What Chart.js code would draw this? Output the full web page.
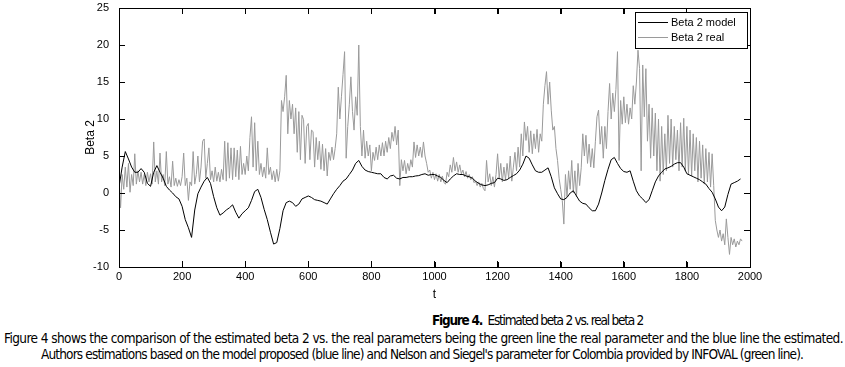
<!DOCTYPE html>
<html>
<head>
<meta charset="UTF-8">
<title>Estimated beta 2 vs. real beta 2</title>
<script src="https://cdn.jsdelivr.net/npm/chart.js"></script>
<style>
  body { margin: 0; background: #fff; }
  #wrap { position: relative; width: 845px; height: 305px; }
  #overlay { position: absolute; left: 0; top: 0; width: 845px; height: 305px; pointer-events: none; }
  #overlay div { position: absolute; background: #000; }
  .cap { position: absolute; white-space: nowrap; font-family: "DejaVu Sans Condensed", "Liberation Sans", sans-serif;
         font-size: 13.5px; line-height: 16px; color: #000; }
</style>
</head>
<body>
<div id="wrap"><canvas id="chart" width="845" height="305"></canvas><div id="overlay"></div></div>
<div class="cap" data-left="432" data-w="211" style="top:312px"><b>Figure 4.</b>&nbsp; Estimated beta 2 vs. real beta 2</div>
<div class="cap" data-left="4" data-w="839" style="top:330px">Figure 4 shows the comparison of the estimated beta 2 vs. the real parameters being the green line the real parameter and the blue line the estimated.</div>
<div class="cap" data-left="41" data-w="762" style="top:346px">Authors estimations based on the model proposed (blue line) and Nelson and Siegel's parameter for Colombia provided by INFOVAL (green line).</div>

<script>
// Beta 2 model, one value every 10 t starting at t = 0
const modelStart = 0, modelStep = 10;
const modelValues = [
  0.8, 3.5, 5.6, 4.6, 3.5, 2.8, 2.8, 3.3, 2.8, 1.3,
  0.9, 2.8, 3.7, 2.8, 2.0, 0.9, 0.4, 0.0, -0.5, -0.8,
  -1.8, -3.6, -4.7, -6.0, -2.3, -0.1, 0.8, 1.6, 2.1, 1.3,
  -0.5, -2.0, -3.0, -2.7, -2.3, -2.0, -1.6, -2.6, -3.4, -2.8,
  -2.4, -2.0, -1.0, 0.2, 0.5, -0.6, -2.2, -3.6, -5.3, -6.9,
  -6.7, -4.8, -2.4, -1.3, -1.1, -1.3, -1.8, -1.5, -0.8, -0.6,
  -0.4, -0.6, -0.9, -1.0, -1.1, -1.3, -1.5, -0.8, -0.1, 0.5,
  1.0, 1.6, 1.9, 2.5, 3.1, 4.0, 4.4, 3.6, 3.1, 2.9,
  2.8, 2.7, 2.6, 2.6, 2.1, 1.9, 2.3, 2.4, 2.0, 1.9,
  2.1, 2.1, 2.2, 2.2, 2.3, 2.35, 2.5, 2.6, 2.4, 2.5,
  2.5, 2.3, 2.1, 1.7, 1.4, 1.9, 2.3, 2.6, 2.5, 2.5,
  2.3, 2.2, 2.0, 1.6, 1.3, 1.1, 1.0, 1.1, 1.3, 1.4,
  2.0, 1.9, 1.7, 1.8, 2.1, 2.35, 2.6, 3.1, 3.9, 5.0,
  4.7, 3.8, 3.0, 2.8, 2.8, 3.1, 3.4, 2.2, 0.7, -0.1,
  -0.8, -0.9, -0.6, 0.0, 0.3, -0.4, -1.1, -1.4, -1.5, -2.0,
  -2.4, -2.4, -1.5, 0.0, 1.7, 3.2, 4.5, 4.8, 4.0, 3.3,
  2.9, 2.8, 3.0, 1.6, 0.3, -0.4, -0.8, -1.3, -0.9, 0.3,
  1.5, 2.3, 2.8, 3.25, 3.4, 3.6, 3.9, 4.1, 4.1, 3.5,
  2.6, 2.4, 2.2, 2.0, 1.8, 1.5, 1.2, 0.6, 0.1, -0.8,
  -1.9, -2.4, -1.9, -0.2, 1.2, 1.4, 1.6, 1.9
];

// Beta 2 real, one value every 5 t starting at t = 0
const realStart = 0, realStep = 5;
const realValues = [
  2.0, -2.0, 2.5, 0.5, 3.5, 0.8, 4.0, 0.1, 2.5, 1.0, 5.3, 1.2, 3.0, 1.5, 2.8, 1.2, 2.5, 1.0, 2.8, 1.5,
  2.6, 1.2, 6.9, 1.5, 3.0, 1.2, 5.4, 1.5, 2.5, 1.0, 5.6, 1.2, 2.2, 0.8, 4.3, 1.0, 2.0, 0.9, 1.8, 1.0,
  2.2, 5.4, 1.0, 2.0, -1.0, 1.5, 1.0, 5.6, 1.2, 2.5, 5.0, 1.5, 3.5, 7.0, 7.3, 2.0, 4.0, 6.1, 1.8, 3.0,
  1.5, 3.5, 1.6, 2.8, 1.5, 3.2, 1.8, 7.0, 1.6, 6.8, 2.0, 6.1, 1.8, 6.1, 2.2, 5.8, 1.8, 6.3, 2.5, 4.0,
  2.5, 5.0, 3.0, 7.5, 10.3, 3.5, 9.5, 3.0, 7.0, 2.5, 4.0, 2.2, 3.5, 2.0, 6.1, 2.5, 3.5, 1.8, 3.0, 1.5,
  3.2, 1.6, 3.0, 12.5, 11.0, 13.0, 15.9, 8.0, 12.5, 10.0, 12.0, 8.0, 11.5, 5.5, 11.0, 4.5, 10.5, 9.9, 4.0, 9.0,
  9.4, 4.5, 8.5, 8.3, 3.5, 7.5, 4.5, 7.0, 3.2, 6.6, 3.0, 6.0, 2.3, 5.5, 4.4, 6.2, 4.5, 6.0, 8.0, 14.3,
  10.0, 13.0, 16.0, 19.1, 4.7, 9.0, 12.0, 15.7, 11.0, 8.5, 13.0, 10.5, 20.0, 9.0, 5.0, 8.5, 4.7, 7.0, 5.0, 6.5,
  3.0, 5.5, 4.4, 6.2, 4.5, 6.5, 5.0, 6.8, 5.0, 7.0, 5.5, 7.5, 6.0, 8.2, 7.0, 9.0, 6.5, 8.5, 1.0, 4.5,
  3.0, 4.4, 2.6, 4.0, 3.0, 4.5, 3.5, 6.9, 4.8, 6.5, 5.0, 6.2, 4.8, 6.9, 5.0, 4.0, 2.8, 3.1, 2.0, 2.8,
  1.8, 2.6, 1.6, 2.5, 1.5, 2.3, 1.4, 1.2, 2.8, 2.2, 3.8, 2.8, 4.8, 3.0, 4.2, 2.8, 3.8, 2.6, 3.1, 2.2,
  2.9, 2.0, 2.5, 1.8, 2.2, 1.4, 1.6, 1.0, 1.5, 0.8, 1.3, 0.6, 0.3, 4.4, 1.5, 2.6, 1.0, 2.2, 0.8, 2.5,
  5.3, 2.0, 4.0, 1.5, 3.5, 1.8, 4.0, 2.0, 5.0, 1.6, 3.5, 5.5, 3.0, 6.2, 3.5, 8.0, 5.0, 9.6, 7.1, 9.0,
  5.5, 8.4, 5.3, 8.0, 6.0, 8.6, 5.5, 8.0, 7.0, 12.0, 14.5, 16.4, 12.0, 15.0, 11.2, 8.5, 9.0, 6.0, 4.4, 2.0,
  0.5, -1.0, -4.2, 2.5, -0.5, 3.0, 0.5, 4.4, 0.0, 3.0, -0.5, 4.0, 1.0, 3.4, 8.0, 5.0, 7.8, 4.0, 6.6, 3.5,
  6.0, 3.4, 7.0, 10.3, 11.2, 6.6, 9.0, 4.7, 9.0, 6.0, 11.0, 14.8, 10.0, 13.5, 11.0, 14.0, 19.1, 4.4, 12.5, 9.3,
  13.0, 9.5, 12.0, 9.3, 11.5, 10.0, 14.5, 12.0, 15.0, 19.3, 16.8, 3.0, 17.3, 10.3, 16.8, 7.0, 12.0, 4.7, 11.5, 5.0,
  10.8, 3.0, 10.0, 1.6, 9.0, 2.5, 8.0, 3.0, 10.5, 4.0, 10.0, 3.5, 9.0, 4.5, 8.5, 3.0, 9.5, 3.5, 10.1, 3.0,
  9.0, 2.5, 8.5, 2.3, 8.0, 3.0, 7.5, 1.5, 7.0, 2.0, 6.5, 1.2, 6.0, 1.5, 5.5, 0.8, 5.3, 1.0, -3.7, -5.0,
  -6.0, -5.0, -6.5, -5.5, -7.0, -3.5, -6.0, -8.3, -6.0, -7.0, -6.2, -7.3, -6.5, -7.0, -6.2, -6.5
];

const xTicksMin = 0, xTicksMax = 2000, xTickStep = 200;
const yTicksMin = -10, yTicksMax = 25, yTickStep = 5;

function toPoints(start, step, vals) {
  return vals.map((v, i) => ({ x: start + i * step, y: v }));
}

Chart.defaults.color = '#000';
Chart.defaults.font.family = '"Liberation Sans", Arial, sans-serif';
Chart.defaults.font.size = 11;

// inward tick marks (negative tick length) and a black border on every side
const gridIn = { display: true, drawOnChartArea: false, drawTicks: true, tickLength: -6, color: '#000', lineWidth: 1 };
const borderOn = { display: true, color: '#000', width: 1 };

// boxed legend, top right inside the axes
const boxLegend = {
  id: 'boxLegend',
  afterDraw(chart) {
    const ctx = chart.ctx;
    const a = chart.chartArea;
    const bx = Math.round(a.right) - 115, by = Math.round(a.top) + 4, bw = 112, bh = 36;
    ctx.save();
    ctx.fillStyle = '#ffffff';
    ctx.fillRect(bx, by, bw, bh);
    ctx.fillStyle = '#000000';
    ctx.fillRect(bx, by, bw, 1);
    ctx.fillRect(bx, by + bh, bw + 1, 1);
    ctx.fillRect(bx, by, 1, bh);
    ctx.fillRect(bx + bw, by, 1, bh);
    ctx.font = '11px "Liberation Sans", Arial, sans-serif';
    ctx.textBaseline = 'middle';
    chart.data.datasets.forEach((ds, i) => {
      const ly = by + 10 + i * 15;
      ctx.fillStyle = ds.borderColor;
      ctx.fillRect(bx + 3, ly, 30, 1);
      ctx.fillStyle = '#000000';
      ctx.fillText(ds.label, bx + 36, ly + 0.5);
    });
    ctx.restore();
  }
};

const chart = new Chart(document.getElementById('chart'), {
  type: 'line',
  data: {
    datasets: [
      { label: 'Beta 2 model', data: toPoints(modelStart, modelStep, modelValues), borderColor: '#000000', borderWidth: 1, xAxisID: 'x', yAxisID: 'y' },
      { label: 'Beta 2 real', data: toPoints(realStart, realStep, realValues), borderColor: '#9a9a9a', borderWidth: 1, xAxisID: 'x', yAxisID: 'y' }
    ]
  },
  options: {
    responsive: false,
    animation: false,
    events: [],
    layout: { padding: { left: 83, top: 8, right: 95, bottom: 0 } },
    elements: { point: { radius: 0 }, line: { tension: 0 } },
    plugins: { legend: { display: false }, tooltip: { enabled: false } },
    scales: {
      x: {
        type: 'linear', position: 'bottom', min: xTicksMin, max: xTicksMax,
        ticks: { stepSize: xTickStep, padding: 9, maxRotation: 0, callback: v => String(v) },
        grid: gridIn, border: borderOn,
        title: { display: true, text: 't', font: { size: 12 }, padding: { top: 0, bottom: 3 } },
        afterFit(s) { s.height = 38; s.paddingLeft = 0; s.paddingRight = 0; }
      },
      xTop: {
        type: 'linear', position: 'top', min: xTicksMin, max: xTicksMax,
        ticks: { stepSize: xTickStep, display: false },
        grid: gridIn, border: borderOn,
        afterFit(s) { s.height = 0; s.paddingLeft = 0; s.paddingRight = 0; }
      },
      y: {
        type: 'linear', position: 'left', min: yTicksMin, max: yTicksMax,
        ticks: { stepSize: yTickStep, padding: 16, callback: v => String(v) },
        grid: gridIn, border: borderOn,
        title: { display: true, text: 'Beta 2', font: { size: 12 }, padding: 0 },
        afterFit(s) { s.width = 36; s.paddingTop = 0; s.paddingBottom = 0; }
      },
      yRight: {
        type: 'linear', position: 'right', min: yTicksMin, max: yTicksMax,
        ticks: { stepSize: yTickStep, display: false },
        grid: gridIn, border: borderOn,
        afterFit(s) { s.width = 0; s.paddingTop = 0; s.paddingBottom = 0; }
      }
    }
  },
  plugins: [boxLegend]
});

// axes box and inward ticks repeated as thin divs over the canvas, placed from the chart's scales
(function drawFrame() {
  const ov = document.getElementById('overlay');
  const a = chart.chartArea;
  const L = Math.round(a.left), R = Math.round(a.right), T = Math.round(a.top), B = Math.round(a.bottom);
  const legendLeft = R - 115, legendBottom = T + 40;
  function bar(x, y, w, h) {
    const d = document.createElement('div');
    d.style.left = x + 'px'; d.style.top = y + 'px';
    d.style.width = w + 'px'; d.style.height = h + 'px';
    ov.appendChild(d);
  }
  bar(L, T, R - L + 1, 1);
  bar(L, B, R - L + 1, 1);
  bar(L, T, 1, B - T + 1);
  bar(R, T, 1, B - T + 1);
  chart.scales.x.ticks.forEach(t => {
    const px = Math.round(chart.scales.x.getPixelForValue(t.value));
    bar(px, B - 5, 1, 5);
    if (px < legendLeft) bar(px, T + 1, 1, 5);
  });
  chart.scales.y.ticks.forEach(t => {
    const py = Math.round(chart.scales.y.getPixelForValue(t.value));
    bar(L + 1, py, 5, 1);
    if (py > legendBottom) bar(R - 5, py, 5, 1);
  });
})();

// fit the caption lines to the widths they have in the figure with letter spacing
document.querySelectorAll('.cap').forEach(el => {
  const w = el.getBoundingClientRect().width;
  const n = el.textContent.length;
  el.style.left = el.dataset.left + 'px';
  el.style.letterSpacing = ((el.dataset.w - w) / n).toFixed(3) + 'px';
});
</script>
</body>
</html>
